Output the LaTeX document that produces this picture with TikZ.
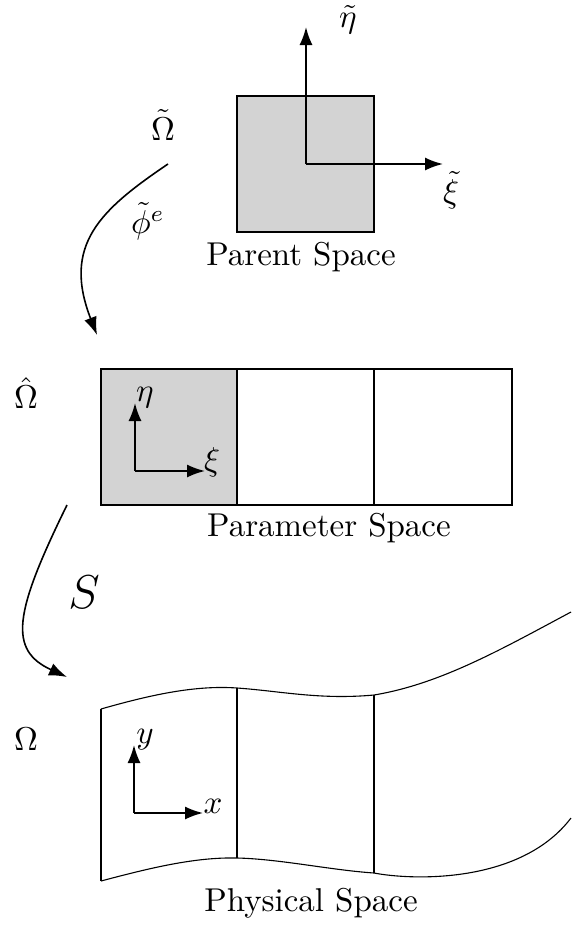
\documentclass[tikz,border=0pt]{standalone}
\usetikzlibrary{arrows.meta}
\definecolor{cellgray}{RGB}{211,211,211}
\tikzset{
  lbl/.style={inner sep=0pt, font=\normalsize, scale=3.3},
  biglbl/.style={inner sep=0pt, font=\Large, scale=3.3},
  axis/.style={line width=1.8pt, -{Latex[length=18pt,width=13pt]}},
  maparrow/.style={line width=1.6pt, -{Latex[length=18pt,width=13pt]}},
  frame/.style={line width=1.6pt},
  thinframe/.style={line width=1.1pt},
}
\begin{document}
\begin{tikzpicture}[x=1pt,y=-1pt]
\useasboundingbox (0,0) rectangle (571,929);

% ---------- Parent space ----------
\filldraw[fill=cellgray, frame] (237,96) rectangle (374,232);
\coordinate (po) at (306,164);
\coordinate (peta) at (306,27);
\coordinate (pxi) at (443,164);
\draw[axis] (po) -- (peta);
\draw[axis] (po) -- (pxi);
\node[lbl] (letaT) at (348,20) {$\tilde{\eta}$};
\node[lbl] (lxiT) at (451,190) {$\tilde{\xi}$};
\node[lbl] (parent) at (301,257) {Parent Space};
\node[lbl] (OmT) at (163,125) {$\tilde{\Omega}$};
\node[lbl] (phi) at (148,221) {$\tilde{\phi}^e$};

\coordinate (phis) at (168,164);
\coordinate (phie) at (97,335);
\draw[maparrow] (phis) .. controls (100,210) and (62,245) .. (phie);

% ---------- Parameter space ----------
\fill[cellgray] (101,369) rectangle (237,505);
\draw[frame] (101,369) rectangle (512,505);
\draw[frame] (237,369) -- (237,505);
\draw[frame] (374,369) -- (374,505);
\coordinate (qo) at (135,471);
\coordinate (qeta) at (135,403);
\coordinate (qxi) at (205,471);
\draw[axis] (qo) -- (qeta);
\draw[axis] (qo) -- (qxi);
\node[lbl] (leta) at (145,398) {$\eta$};
\node[lbl] (lxi) at (212,462) {$\xi$};
\node[lbl] (param) at (329,528) {Parameter Space};
\node[lbl] (OmH) at (26,393) {$\hat{\Omega}$};

\coordinate (ss) at (67,505);
\coordinate (se) at (67,677);
\draw[maparrow] (ss) .. controls (14,613) and (8,650) .. (se);
\node[biglbl] (S) at (84,592) {$S$};

% ---------- Physical space ----------
\draw[thinframe]
  (101,709) .. controls (150,695) and (195,685) .. (237,688)
  .. controls (280,691) and (320,700) .. (374,695)
  .. controls (440,684) and (500,650) .. (571,612);
\draw[thinframe]
  (101,881) .. controls (150,868) and (195,857) .. (237,858)
  .. controls (280,859) and (330,870) .. (374,873)
  .. controls (410,880) and (520,885) .. (571,818);
\draw[thinframe] (101,709) -- (101,881);
\draw[thinframe] (237,688) -- (237,858);
\draw[line width=1.4pt] (374,695) -- (374,873);
\coordinate (xo) at (134,813);
\coordinate (xy) at (134,745);
\coordinate (xx) at (203,813);
\draw[axis] (xo) -- (xy);
\draw[axis] (xo) -- (xx);
\node[lbl] (ly) at (145,740) {$y$};
\node[lbl] (lx) at (213,806) {$x$};
\node[lbl] (Om) at (26,739) {$\Omega$};
\node[lbl] (phys) at (311,903) {Physical Space};
\end{tikzpicture}
\end{document}
